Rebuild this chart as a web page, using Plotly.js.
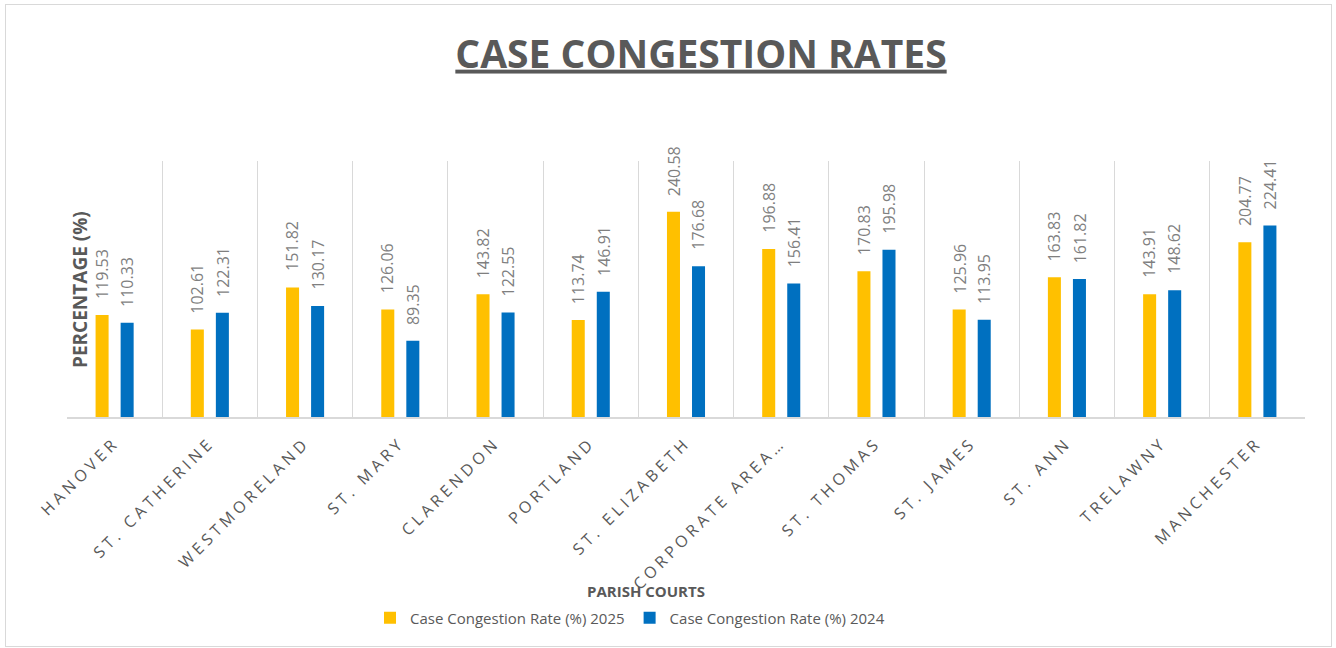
<!DOCTYPE html>
<html>
<head>
<meta charset="utf-8">
<script src="https://cdn.plot.ly/plotly-3.0.1.min.js"></script>
<style>
  html, body { margin: 0; padding: 0; background: #fff; }
  #wrap { position: relative; width: 1336px; height: 648px; }
  #chart { width: 1336px; height: 648px; }
  #frame { position: absolute; left: 5px; top: 4px; width: 1325px; height: 641px;
           border: 1px solid #d9d9d9; pointer-events: none; }
</style>
</head>
<body>
<div id="wrap">
  <div id="chart"></div>
  <div id="frame"></div>
</div>
<script>
// ---- data ----
const categories = ["HANOVER", "ST. CATHERINE", "WESTMORELAND", "ST. MARY", "CLARENDON",
  "PORTLAND", "ST. ELIZABETH", "CORPORATE AREA\u2026", "ST. THOMAS", "ST. JAMES",
  "ST. ANN", "TRELAWNY", "MANCHESTER"];
const rate2025 = [119.53, 102.61, 151.82, 126.06, 143.82, 113.74, 240.58, 196.88,
  170.83, 125.96, 163.83, 143.91, 204.77];
const rate2024 = [110.33, 122.31, 130.17, 89.35, 122.55, 146.91, 176.68, 156.41,
  195.98, 113.95, 161.82, 148.62, 224.41];
const seriesNames = ["Case Congestion Rate (%) 2025", "Case Congestion Rate (%) 2024"];
const chartTitle = "CASE CONGESTION RATES";
const xTitle = "PARISH COURTS";
const yTitle = "PERCENTAGE (%)";

// ---- layout geometry ----
const W = 1336, H = 648;
const M = { l: 67, r: 31, t: 161, b: 231 };
const plotW = W - M.l - M.r, plotH = H - M.t - M.b;
const px2x = px => (px - M.l) / plotW;
const px2y = py => (H - M.b - py) / plotH;

const FONT = "Open Sans, Noto Sans, sans-serif";
const colors = ["#FFC000", "#0070C0"];

const traces = [rate2025, rate2024].map((vals, i) => ({
  type: "bar",
  name: seriesNames[i],
  x: categories,
  y: vals,
  marker: { color: colors[i] },
  hoverinfo: "x+y"
}));

// value labels (rotated), derived from the data arrays
const slot = (1 - 0.474) * (plotW / categories.length) / 2;
const annotations = [];
[rate2025, rate2024].forEach((vals, s) => {
  vals.forEach((v, k) => {
    annotations.push({
      x: categories[k], y: v, xref: "x", yref: "y",
      text: v.toFixed(2), showarrow: false, textangle: -90,
      xanchor: "center", yanchor: "bottom",
      xshift: (s === 0 ? -1 : 1) * slot / 2, yshift: 14,
      font: { family: FONT, size: 16, color: "#7f7f7f" }
    });
  });
});
annotations.push({
  xref: "paper", yref: "paper", x: px2x(80), y: px2y(290),
  text: "<b>" + yTitle + "</b>", textangle: -90, showarrow: false,
  xanchor: "center", yanchor: "middle",
  font: { family: FONT, size: 19, color: "#595959" }
});
annotations.push({
  xref: "paper", yref: "paper", x: px2x(646), y: px2y(591),
  text: "<b>" + xTitle + "</b>", showarrow: false,
  xanchor: "center", yanchor: "middle",
  font: { family: FONT, size: 15, color: "#595959" }
});

const layout = {
  width: W, height: H,
  margin: M,
  paper_bgcolor: "#ffffff", plot_bgcolor: "#ffffff",
  barmode: "group", bargap: 0.474, bargroupgap: 0.48,
  title: {
    text: "<u>" + chartTitle + "</u>",
    x: 701 / W, xref: "container", xanchor: "center",
    y: 1 - 54 / H, yref: "container", yanchor: "middle",
    font: { family: FONT, size: 39, color: "#595959", weight: 700 }
  },
  xaxis: {
    type: "category",
    tickvals: categories,
    ticktext: categories.map(c => '<span style="letter-spacing:4px">' + c + '</span>'),
    tickangle: -45,
    tickfont: { family: FONT, size: 16, color: "#595959" },
    ticklabelstandoff: 8,
    showgrid: true, gridcolor: "#d9d9d9", gridwidth: 1,
    tickson: "boundaries", ticks: "",
    showline: true, linecolor: "#d9d9d9", linewidth: 2,
    automargin: false, fixedrange: true
  },
  yaxis: {
    range: [0, 300], showgrid: false, zeroline: false,
    showticklabels: false, showline: false, ticks: "",
    automargin: false, fixedrange: true
  },
  showlegend: true,
  legend: {
    orientation: "h", xref: "container", yref: "container",
    x: 370 / W, xanchor: "left", y: 1 - 618 / H, yanchor: "middle",
    font: { family: FONT, size: 15, color: "#595959" },
    traceorder: "normal"
  },
  annotations: annotations
};

Plotly.newPlot("chart", traces, layout, { displayModeBar: false, staticPlot: false });
</script>
</body>
</html>
